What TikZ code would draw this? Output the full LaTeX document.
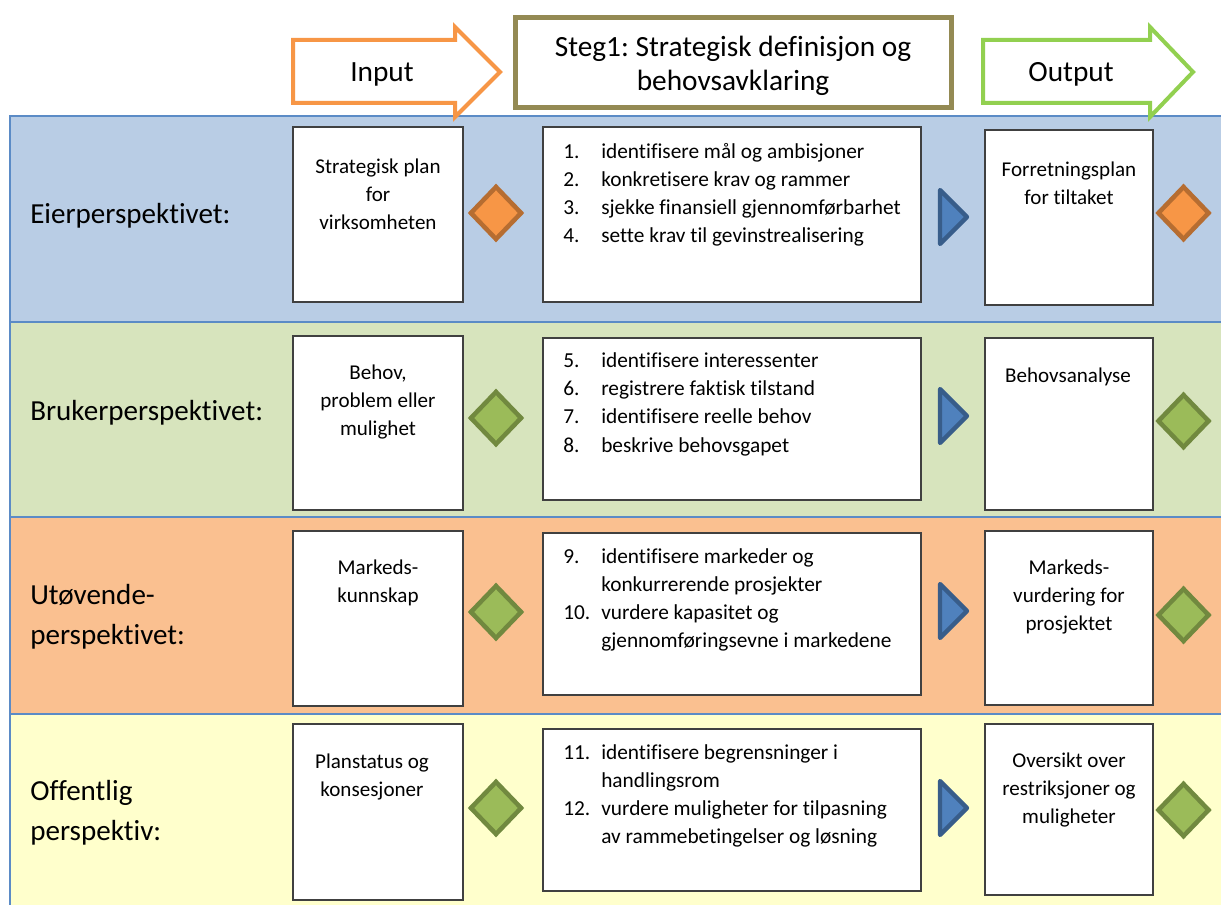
\documentclass[tikz,border=0pt]{standalone}
\usepackage{fontspec}
\setmainfont{Carlito}[Ligatures={NoCommon}]
\usetikzlibrary{shapes.geometric}
\frenchspacing
\definecolor{bandA}{HTML}{B9CDE5}
\definecolor{bandB}{HTML}{D7E4BD}
\definecolor{bandC}{HTML}{FAC090}
\definecolor{bandD}{HTML}{FFFFCC}
\definecolor{bandline}{HTML}{5B8BC6}
\definecolor{inorange}{HTML}{F79646}
\definecolor{outgreen}{HTML}{92D050}
\definecolor{stegolive}{HTML}{948A54}
\definecolor{dorgfill}{HTML}{F79646}
\definecolor{dorgline}{HTML}{B66D31}
\definecolor{dgrnfill}{HTML}{9BBB59}
\definecolor{dgrnline}{HTML}{71893F}
\definecolor{trifill}{HTML}{4F81BD}
\definecolor{triline}{HTML}{385D8A}
\definecolor{boxline}{HTML}{404040}
\begin{document}
\begin{tikzpicture}[x=0.75pt,y=-0.75pt,
  band/.style={draw=bandline,line width=1.6pt},
  wbox/.style={draw=boxline,fill=white,line width=1.1pt},
  boxtext/.style={align=center,inner sep=0pt,font=\fontsize{15.8}{21}\selectfont},
  listitem/.style={anchor=west,inner sep=0pt,text height=11pt,text depth=3.5pt,font=\fontsize{16}{21}\selectfont},
  bandlabel/.style={anchor=west,align=left,inner sep=0pt,font=\fontsize{21.8}{30}\selectfont},
  headtext/.style={align=center,inner sep=0pt,font=\fontsize{22}{26}\selectfont},
  diaorg/.style={shape=diamond,draw=dorgline,fill=dorgfill,line width=3.4pt,inner sep=0pt,minimum width=39pt,minimum height=40.5pt},
  diagrn/.style={shape=diamond,draw=dgrnline,fill=dgrnfill,line width=3.4pt,inner sep=0pt,minimum width=39pt,minimum height=40.5pt},
  tri/.style={draw=triline,fill=trifill,line width=3.2pt,line join=round},
  inarrow/.style={draw=inorange,fill=white,line width=3pt},
  outarrow/.style={draw=outgreen,fill=white,line width=3pt},
  stegbox/.style={draw=stegolive,fill=white,line width=3.75pt,minimum width=327pt,minimum height=68pt,inner sep=0pt}
]
\useasboundingbox (0,0) rectangle (1221,905);
\begin{scope}
\clip (0,0) rectangle (1221,905);
\path[band,fill=bandA] (10,116) rectangle (1240,322);
\path[band,fill=bandB] (10,322) rectangle (1240,517);
\path[band,fill=bandC] (10,517) rectangle (1240,714);
\path[band,fill=bandD] (10,714) rectangle (1240,920);
\end{scope}

% header
\draw[inarrow] (293,40) -- (455,40) -- (455,27) -- (500,72) -- (455,117) -- (455,103) -- (293,103) -- cycle;
\node[headtext] (input) at (382,74) {Input};
\node[stegbox] (steg) at (733,62.5) {};
\node[headtext] (stegtext) at (733,66) {Steg1: Strategisk definisjon og\\behovsavklaring};
\draw[outarrow] (983,40) -- (1150,40) -- (1150,27) -- (1193,72) -- (1150,117) -- (1150,103) -- (983,103) -- cycle;
\node[headtext] (output) at (1071,74) {Output};

% band labels
\node[bandlabel] (l1) at (30,216) {Eierperspektivet:};
\node[bandlabel] (l2) at (30,413) {Brukerperspektivet:};
\node[bandlabel] (l3) at (30,617) {Utøvende-\\perspektivet:};
\node[bandlabel] (l4) at (30,813) {Offentlig\\perspektiv:};

% column 1 boxes
\draw[wbox] (293,127) rectangle (463,302);
\draw[wbox] (293,336) rectangle (463,510);
\draw[wbox] (293,531) rectangle (463,706);
\draw[wbox] (293,724) rectangle (463,900);
\node[boxtext] (i1) at (378,194) {Strategisk plan\\for\\virksomheten};
\node[boxtext] (i2) at (378,402) {Behov,\\problem eller\\mulighet};
\node[boxtext] (i3) at (378,583) {Markeds-\\kunnskap};
\node[boxtext] (i4) at (372,777) {Planstatus og\\konsesjoner};

% column 2 boxes
\draw[wbox] (543,127) rectangle (921,302);
\draw[wbox] (543,338) rectangle (921,500);
\draw[wbox] (543,533) rectangle (921,695);
\draw[wbox] (543,729) rectangle (921,891);
\node[listitem] (n1) at (563,154) {1.};
\node[listitem] (t1) at (601,154) {identifisere mål og ambisjoner};
\node[listitem] (n2) at (563,182) {2.};
\node[listitem] (t2) at (601,182) {konkretisere krav og rammer};
\node[listitem] (n3) at (563,210) {3.};
\node[listitem] (t3) at (601,210) {sjekke finansiell gjennomførbarhet};
\node[listitem] (n4) at (563,238) {4.};
\node[listitem] (t4) at (601,238) {sette krav til gevinstrealisering};
\node[listitem] (n5) at (563,363) {5.};
\node[listitem] (t5) at (601,363) {identifisere interessenter};
\node[listitem] (n6) at (563,391) {6.};
\node[listitem] (t6) at (601,391) {registrere faktisk tilstand};
\node[listitem] (n7) at (563,419) {7.};
\node[listitem] (t7) at (601,419) {identifisere reelle behov};
\node[listitem] (n8) at (563,447) {8.};
\node[listitem] (t8) at (601,447) {beskrive behovsgapet};
\node[listitem] (n9) at (563,558) {9.};
\node[listitem] (t9) at (601,558) {identifisere markeder og};
\node[listitem] (t9b) at (601,586) {konkurrerende prosjekter};
\node[listitem] (n10) at (563,614) {10.};
\node[listitem] (t10) at (601,614) {vurdere kapasitet og};
\node[listitem] (t10b) at (601,642) {gjennomføringsevne i markedene};
\node[listitem] (n11) at (563,754) {11.};
\node[listitem] (t11) at (601,754) {identifisere begrensninger i};
\node[listitem] (t11b) at (601,782) {handlingsrom};
\node[listitem] (n12) at (563,810) {12.};
\node[listitem] (t12) at (601,810) {vurdere muligheter for tilpasning};
\node[listitem] (t12b) at (601,838) {av rammebetingelser og løsning};

% column 3 boxes
\draw[wbox] (985,130) rectangle (1153,305);
\draw[wbox] (985,338) rectangle (1153,510);
\draw[wbox] (985,531) rectangle (1153,705);
\draw[wbox] (985,724) rectangle (1153,895);
\node[boxtext] (o1) at (1069,183) {Forretningsplan\\for tiltaket};
\node[boxtext] (o2) at (1068,377) {Behovsanalyse};
\node[boxtext] (o3) at (1069,597) {Markeds-\\vurdering for\\prosjektet};
\node[boxtext] (o4) at (1069,790) {Oversikt over\\restriksjoner og\\muligheter};

% diamonds
\node[diaorg] (d1) at (496,213) {};
\node[diagrn] (d2) at (496,418) {};
\node[diagrn] (d3) at (496,612) {};
\node[diagrn] (d4) at (496,808) {};
\node[diaorg] (d5) at (1183.5,213) {};
\node[diagrn] (d6) at (1183.5,421) {};
\node[diagrn] (d7) at (1183.5,615) {};
\node[diagrn] (d8) at (1183.5,810) {};

% triangles
\foreach \ty in {217,416,611,808}
  \draw[tri] (940,{\ty-27}) -- (967,\ty) -- (940,{\ty+27}) -- cycle;
\end{tikzpicture}
\end{document}
